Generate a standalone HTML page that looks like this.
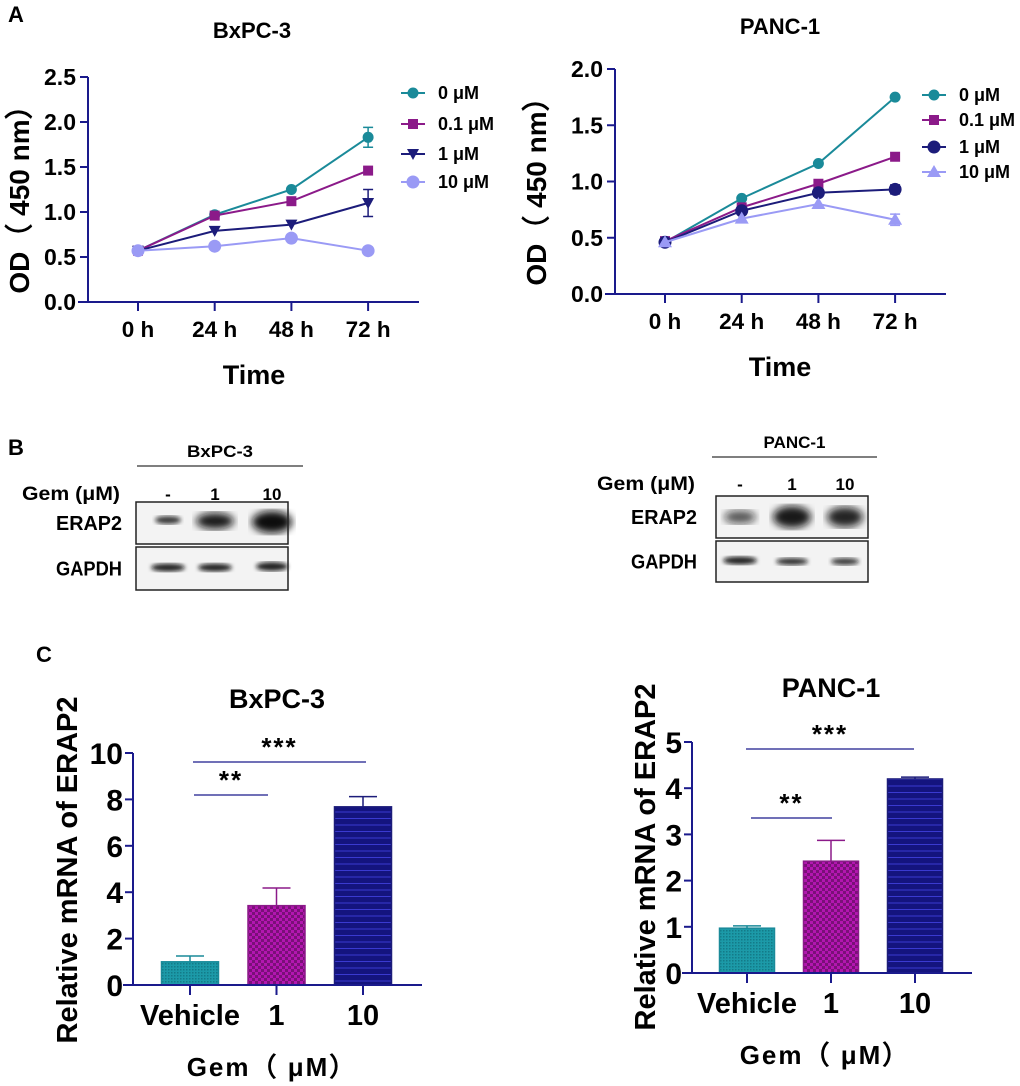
<!DOCTYPE html>
<html><head><meta charset="utf-8"><style>
body{margin:0;background:#fff;width:1020px;height:1086px;overflow:hidden}
svg{display:block;font-family:"Liberation Sans",Arial,sans-serif}
</style></head><body>
<svg id="fig" width="1020" height="1086" viewBox="0 0 1020 1086">
<defs>
<pattern id="pTeal" width="3" height="3" patternUnits="userSpaceOnUse"><rect width="3" height="3" fill="#1c9aa8"/><rect width="1.5" height="1.5" fill="#137b88"/></pattern>
<pattern id="pMag" width="6" height="6" patternUnits="userSpaceOnUse"><rect width="6" height="6" fill="#b316b0"/><rect width="3" height="3" fill="#7a1078"/><rect x="3" y="3" width="3" height="3" fill="#7a1078"/></pattern>
<pattern id="pNavy" width="6" height="6.5" patternUnits="userSpaceOnUse"><rect width="6" height="6.5" fill="#14147e"/><rect y="5.5" width="6" height="1" fill="#3a3ad0"/></pattern>
<filter id="blur2"><feGaussianBlur stdDeviation="2.2"/></filter>
<filter id="blur4"><feGaussianBlur stdDeviation="4"/></filter>
</defs>
<g id="root"></g>
</svg>
<script>
// ---------- Panel A data ----------
const timeLabels = ["0 h","24 h","48 h","72 h"];
const doseLabels = ["0 μM","0.1 μM","1 μM","10 μM"];
const bxOD0 = [0.57,0.97,1.25,1.83];
const bxOD01 = [0.57,0.96,1.12,1.46];
const bxOD1 = [0.57,0.79,0.86,1.10];
const bxOD10 = [0.57,0.62,0.71,0.57];
const bxErr0 = [0.02,0.02,0.02,0.11];
const bxErr1 = [0.02,0.02,0.02,0.15];
const pcOD0 = [0.46,0.85,1.16,1.75];
const pcOD01 = [0.47,0.77,0.98,1.22];
const pcOD1 = [0.46,0.74,0.90,0.93];
const pcOD10 = [0.46,0.67,0.80,0.66];
const pcErr1 = [0.02,0.02,0.02,0.04];
const pcErr10 = [0.02,0.02,0.02,0.05];
const bxTicks = [0,0.5,1.0,1.5,2.0,2.5];
const pcTicks = [0,0.5,1.0,1.5,2.0];
// ---------- Panel C data ----------
const barCats = ["Vehicle","1","10"];
const bxMrna = [1.0,3.42,7.68];
const bxMrnaErr = [0.25,0.76,0.44];
const pcMrna = [0.97,2.42,4.2];
const pcMrnaErr = [0.05,0.45,0.04];
const bxBarTicks = [0,2,4,6,8,10];
const pcBarTicks = [0,1,2,3,4,5];

const NS="http://www.w3.org/2000/svg";
const root=document.getElementById('root');
function mk(tag,attrs,parent,text){const e=document.createElementNS(NS,tag);for(const k in attrs)e.setAttribute(k,attrs[k]);if(text!==undefined)e.textContent=text;(parent||root).appendChild(e);return e;}
const AX="#1a1a8c";
const COLS=["#1a8a99","#8b1a89","#1c1c7a","#9a9af5"];

function marker(g,type,x,y,c){
  let e;
  if(type==='circle'){e=mk('circle',{cx:x,cy:y,r:5.5,fill:c},g);}
  else if(type==='bigcircle'){e=mk('circle',{cx:x,cy:y,r:6.5,fill:c},g);}
  else if(type==='square'){e=mk('rect',{x:x-5,y:y-5,width:10,height:10,fill:c},g);}
  else if(type==='down'){e=mk('polygon',{points:`${x-6},${y-5} ${x+6},${y-5} ${x},${y+6}`,fill:c},g);}
  else {e=mk('polygon',{points:`${x-7},${y+5} ${x+7},${y+5} ${x},${y-7}`,fill:c},g);}
  
  
}

function lineChart(o){
  const g=mk('g',{},root);
  
  
  const ymax=o.ticks[o.ticks.length-1];
  const Y=v=>o.y0-(v/ymax)*(o.y0-o.yTop);
  const X=i=>o.x0tick+i*o.xstep;
  const t=mk('text',{x:o.titleX,y:o.titleY,'font-size':22,'font-weight':'bold','text-anchor':'middle'},g,o.title);
  
  const ax=mk('path',{d:`M${o.ax},${o.yTop} V${o.y0} M${o.ax-10},${o.y0} H${o.axEnd}`,stroke:AX,'stroke-width':2,fill:'none'},g);
  
  o.ticks.forEach(v=>{
    mk('line',{x1:o.ax-8,x2:o.ax,y1:Y(v),y2:Y(v),stroke:AX,'stroke-width':2},g);
    const l=mk('text',{x:o.ax-12,y:Y(v)+8,'font-size':23,'font-weight':'bold','text-anchor':'end'},g,v.toFixed(1));
    
  });
  timeLabels.forEach((s,i)=>{
    mk('line',{x1:X(i),x2:X(i),y1:o.y0,y2:o.y0+9,stroke:AX,'stroke-width':2},g);
    const l=mk('text',{x:X(i),y:o.y0+35,'font-size':22.5,'font-weight':'bold','text-anchor':'middle'},g,s);
    
  });
  const xt=mk('text',{x:o.xTitleX,y:o.xTitleY,'font-size':27,'font-weight':'bold','text-anchor':'middle'},g,'Time');
  
  const yt=mk('text',{x:0,y:0,'font-size':28,'font-weight':'bold','text-anchor':'middle',transform:`translate(${o.yTitleX},${(o.y0+o.yTop)/2+3}) rotate(-90)`},g,'OD（ 450 nm）');
  
  o.series.forEach((s,si)=>{
    const c=COLS[si];
    const p=mk('polyline',{points:s.v.map((v,i)=>`${X(i)},${Y(v)}`).join(' '),fill:'none',stroke:c,'stroke-width':2},g);
    
    if(s.e){s.e.forEach((e,i)=>{if(e>0.03){const x=X(i);mk('path',{d:`M${x-5},${Y(s.v[i]+e)} H${x+5} M${x},${Y(s.v[i]+e)} V${Y(s.v[i]-e)} M${x-5},${Y(s.v[i]-e)} H${x+5}`,stroke:c,'stroke-width':1.5,fill:'none'},g);}});}
    s.v.forEach((v,i)=>marker(g,s.m,X(i),Y(v),c));
    const ly=o.legY[si];
    const le=mk('g',{},g);
    
    mk('line',{x1:o.legX-12,x2:o.legX+12,y1:ly,y2:ly,stroke:c,'stroke-width':2},le);
    marker(le,s.m,o.legX,ly,c);
    mk('text',{x:o.legX+25,y:ly+6,'font-size':18,'font-weight':'bold'},le,doseLabels[si]);
  });
}

lineChart({name:'bxpc3-od-chart',title:'BxPC-3',titleX:252,titleY:38,ax:88,y0:302,yTop:77,axEnd:419,x0tick:138,xstep:76.7,ticks:bxTicks,
  xTitleX:254,xTitleY:384,yTitleX:29,legX:413,legY:[93,124,154,182],
  series:[{v:bxOD0,e:bxErr0,m:'circle'},{v:bxOD01,m:'square'},{v:bxOD1,e:bxErr1,m:'down'},{v:bxOD10,m:'bigcircle'}]});
lineChart({name:'panc1-od-chart',title:'PANC-1',titleX:780,titleY:34,ax:615,y0:294,yTop:69,axEnd:946,x0tick:665,xstep:76.7,ticks:pcTicks,
  xTitleX:780,xTitleY:376,yTitleX:546,legX:934,legY:[95,120,147,172],
  series:[{v:pcOD0,m:'circle'},{v:pcOD01,m:'square'},{v:pcOD1,e:pcErr1,m:'bigcircle'},{v:pcOD10,e:pcErr10,m:'up'}]});

const BARFILL=['url(#pTeal)','url(#pMag)','url(#pNavy)'];
const BARSTROKE=['#1a8a99','#8b1a89','#1c1c7a'];
function barChart(o){
  const g=mk('g',{},root);
  
  
  const ymax=o.ticks[o.ticks.length-1];
  const Y=v=>o.y0-(v/ymax)*(o.y0-o.yTop);
  const X=i=>o.xc0+i*o.xstep;
  const t=mk('text',{x:o.titleX,y:o.titleY,'font-size':27,'font-weight':'bold','text-anchor':'middle'},g,o.title);
  
  o.vals.forEach((v,i)=>{
    const x=X(i),e=o.errs[i];
    mk('path',{d:`M${x},${Y(v)} V${Y(v+e)} M${x-14},${Y(v+e)} H${x+14}`,stroke:BARSTROKE[i],'stroke-width':1.5,fill:'none'},g);
    const b=mk('rect',{x:x-o.bw/2,y:Y(v),width:o.bw,height:o.y0-Y(v),fill:BARFILL[i],stroke:BARSTROKE[i],'stroke-width':1.5},g);
    
  });
  const ax=mk('path',{d:`M${o.ax},${o.yTop} V${o.y0} M${o.ax-10},${o.y0} H${o.axEnd}`,stroke:AX,'stroke-width':2,fill:'none'},g);
  
  o.ticks.forEach(v=>{
    mk('line',{x1:o.ax-8,x2:o.ax,y1:Y(v),y2:Y(v),stroke:AX,'stroke-width':2},g);
    const l=mk('text',{x:o.ax-10,y:Y(v)+11,'font-size':30,'font-weight':'bold','text-anchor':'end'},g,String(v));
    
  });
  barCats.forEach((s,i)=>{
    mk('line',{x1:X(i),x2:X(i),y1:o.y0,y2:o.y0+10,stroke:AX,'stroke-width':2},g);
    const l=mk('text',{x:X(i),y:o.y0+40,'font-size':29,'font-weight':'bold','text-anchor':'middle'},g,s);
    
  });
  o.sig.forEach(s=>{
    const l=mk('line',{x1:s.x1,x2:s.x2,y1:s.y,y2:s.y,stroke:AX,'stroke-width':1.3},g);
    
    const tx=mk('text',{x:(s.x1+s.x2)/2,y:s.y-6,'font-size':26,'font-weight':'bold','text-anchor':'middle','letter-spacing':'2'},g,s.t);
    
  });
  const xt=mk('text',{x:o.xTitleX,y:o.xTitleY,'font-size':26,'font-weight':'bold','text-anchor':'middle','letter-spacing':'2'},g,'Gem（ μM）');
  
  const yt=mk('text',{x:0,y:0,'font-size':29,'font-weight':'bold','text-anchor':'middle',transform:`translate(${o.yTitleX},${o.yTitleMid}) rotate(-90)`},g,'Relative mRNA of ERAP2');
  
}
barChart({name:'bxpc3-mrna-chart',title:'BxPC-3',titleX:277,titleY:708,ax:133,y0:985,yTop:753,axEnd:422,xc0:190,xstep:86.5,bw:57,
  ticks:bxBarTicks,vals:bxMrna,errs:bxMrnaErr,
  sig:[{x1:193,x2:366,y:762,t:'***'},{x1:194,x2:268,y:795,t:'**'}],
  xTitleX:272,xTitleY:1076,yTitleX:77,yTitleMid:870});
barChart({name:'panc1-mrna-chart',title:'PANC-1',titleX:831,titleY:697,ax:692,y0:973,yTop:742,axEnd:972,xc0:747,xstep:84,bw:55,
  ticks:pcBarTicks,vals:pcMrna,errs:pcMrnaErr,
  sig:[{x1:746,x2:914,y:749,t:'***'},{x1:751,x2:832,y:818,t:'**'}],
  xTitleX:825,xTitleY:1064,yTitleX:655,yTitleMid:857});

// panel letters
[['A',8,22],['B',8,455],['C',36,662]].forEach(([s,x,y])=>{
  const e=mk('text',{x:x,y:y,'font-size':22,'font-weight':'bold'},root,s);
  
  
});

// western blots
const laneLabels=["-","1","10"];
function blot(o){
  const g=mk('g',{},root);
  
  
  mk('text',{x:(o.lx1+o.lx2)/2,y:o.lineY-9,'font-size':17,'font-weight':'bold','text-anchor':'middle',textLength:o.cellW,lengthAdjust:'spacingAndGlyphs'},g,o.cell);
  mk('line',{x1:o.lx1,x2:o.lx2,y1:o.lineY,y2:o.lineY,stroke:'#333','stroke-width':1.3},g);
  mk('text',{x:o.gemX-100,y:o.gemY,'font-size':19,'font-weight':'bold',textLength:98,lengthAdjust:'spacingAndGlyphs'},g,'Gem (μM)');
  laneLabels.forEach((s,i)=>mk('text',{x:o.lanes[i],y:o.gemY,'font-size':17,'font-weight':'bold','text-anchor':'middle'},g,s));
  [['ERAP2',o.e1,o.e2,o.erap],['GAPDH',o.g1,o.g2,o.gapdh]].forEach(([name,y1,y2,bands])=>{
    const b=mk('g',{},g);
    
    
    mk('rect',{x:o.bx1,y:y1,width:o.bx2-o.bx1,height:y2-y1,fill:'#f3f3f3'},b);
    bands.forEach((bd,i)=>{
      mk('ellipse',{cx:o.lanes[i],cy:(y1+y2)/2+bd.dy,rx:bd.rx,ry:bd.ry,fill:'#111','fill-opacity':bd.op,filter:bd.ry>6?'url(#blur4)':'url(#blur2)'},b);
    });
    mk('rect',{x:o.bx1,y:y1,width:o.bx2-o.bx1,height:y2-y1,fill:'none',stroke:'#222','stroke-width':1.5},b);
    mk('text',{x:o.gemX-66,y:(y1+y2)/2+7,'font-size':20,'font-weight':'bold',textLength:66,lengthAdjust:'spacingAndGlyphs'},g,name);
  });
}
blot({name:'bxpc3-western-blot',cell:'BxPC-3',cellW:66,lx1:137,lx2:303,lineY:466,gemX:122,gemY:500,lanes:[168,215,272],
  bx1:136,bx2:288,e1:502,e2:544,g1:547,g2:590,
  erap:[{rx:13,ry:4,op:0.8,dy:-3},{rx:19,ry:8,op:0.95,dy:-2},{rx:20,ry:11,op:1,dy:-1}],
  gapdh:[{rx:17,ry:4,op:0.9,dy:-1},{rx:17,ry:4,op:0.9,dy:-1},{rx:16,ry:4.5,op:0.9,dy:-2}]});
blot({name:'panc1-western-blot',cell:'PANC-1',cellW:62,lx1:712,lx2:877,lineY:457,gemX:697,gemY:490,lanes:[740,792,845],
  bx1:716,bx2:868,e1:496,e2:538,g1:541,g2:582,
  erap:[{rx:16,ry:6.5,op:0.7,dy:0},{rx:19,ry:11,op:0.95,dy:0},{rx:18,ry:10,op:0.9,dy:0}],
  gapdh:[{rx:17,ry:4,op:0.9,dy:-1},{rx:16,ry:3.5,op:0.85,dy:0},{rx:14,ry:3.5,op:0.8,dy:0}]});
</script>
</body></html>
